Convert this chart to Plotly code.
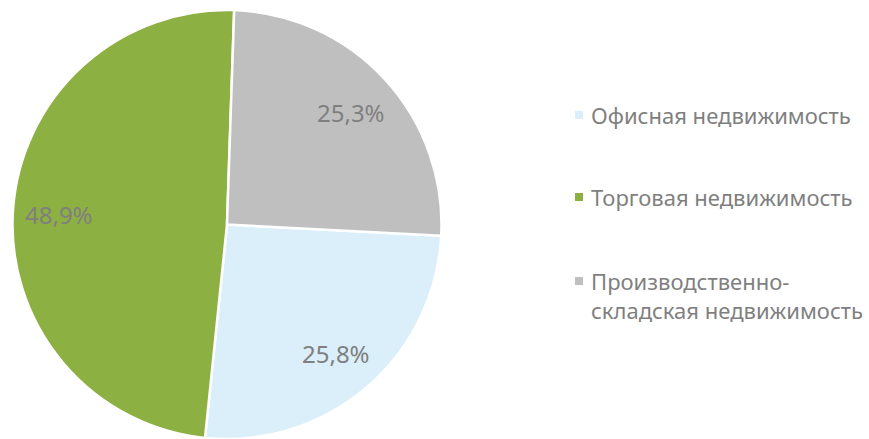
import math
import plotly.graph_objects as go

labels = ["Офисная недвижимость", "Торговая недвижимость", "Производственно-<br>складская недвижимость"]
values = [25.8, 48.9, 25.3]
pct_text = ["25,8%", "48,9%", "25,3%"]
colors = ["#DAEFF9", "#8DB043", "#BFBFBF"]

W, H = 869, 439
R = 214.5
cx, cy = 227, H - R
rotation = 93
FONT = "Noto Sans"
GRAY = "#7F7F7F"

fig = go.Figure(go.Pie(
    labels=labels, values=values, sort=False, direction="clockwise",
    rotation=rotation, textinfo="none", hoverinfo="label+percent",
    marker=dict(colors=colors, line=dict(color="white", width=2.5)),
    domain=dict(x=[(cx - R) / W, (cx + R) / W], y=[0, 2 * R / H]),
    showlegend=False,
))

annotations = []
shapes = []
total = sum(values)
start = rotation
for v, t in zip(values, pct_text):
    mid = start + v / total * 360 / 2
    start += v / total * 360
    a = math.radians(mid)
    px = cx + 0.785 * R * math.sin(a)
    py = 226 - 0.785 * R * math.cos(a)
    annotations.append(dict(x=px / W, y=1 - py / H, xref="paper", yref="paper",
                            xanchor="center", yanchor="middle",
                            text=t, showarrow=False,
                            font=dict(family=FONT, size=24, color=GRAY)))

legend_y = [115, 197, 281]
for lab, col, ly in zip(labels, colors, legend_y):
    shapes.append(dict(type="rect", xref="paper", yref="paper",
                       x0=575 / W, x1=583 / W, y0=1 - (ly + 4) / H, y1=1 - (ly - 4) / H,
                       fillcolor=col, line=dict(width=0)))
    multi = "<br>" in lab
    annotations.append(dict(x=589 / W, y=1 - ly / H, xref="paper", yref="paper",
                            text=lab, showarrow=False, xanchor="left",
                            yanchor="top" if multi else "middle",
                            yshift=17 if multi else 0,
                            align="left",
                            font=dict(family=FONT, size=22, color=GRAY)))

fig.update_layout(width=W, height=H, margin=dict(l=0, r=0, t=0, b=0),
                  paper_bgcolor="white", plot_bgcolor="white",
                  annotations=annotations, shapes=shapes)
fig.write_html("out.html")
